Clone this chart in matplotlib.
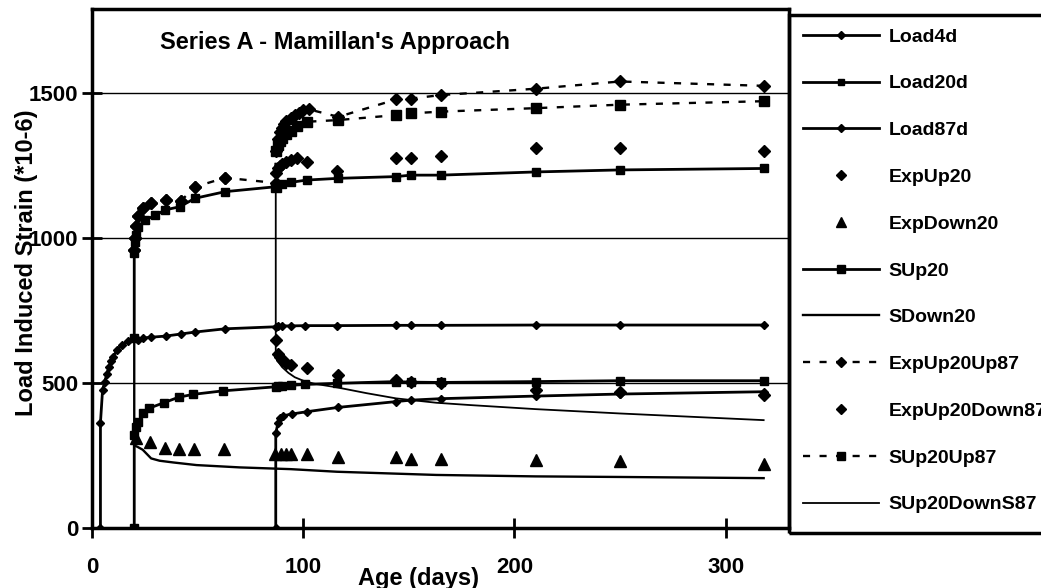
import matplotlib
matplotlib.use("Agg")
import matplotlib.pyplot as plt
from matplotlib.patches import Rectangle

plt.rcParams['font.family'] = ['Liberation Sans', 'DejaVu Sans']
plt.rcParams['font.weight'] = 'bold'

# ---------------- data ----------------
load4d_days = [4, 4, 5, 6, 7, 8, 9, 10, 12, 14, 17, 20, 22, 24, 28, 35, 42, 49, 63, 87,
               88, 90, 94, 101, 116, 144, 151, 165, 210, 250, 318]
load4d_vals = [0, 363, 476, 505, 530, 556, 575, 591, 615, 631, 645, 655, 650, 655, 658, 662,
               669, 676, 687, 694, 696, 697, 697, 698, 698, 699, 699, 699, 700, 700, 700]

load20d_days = [20, 20, 21, 22, 24, 27, 34, 41, 48, 62, 87, 88, 90, 94, 101, 116, 144, 151,
                165, 210, 250, 318]
load20d_vals = [0, 321, 350, 367, 395, 413, 432, 451, 461, 473, 487, 489, 491, 492, 495, 499,
                505, 503, 502, 505, 508, 508]

load87d_days = [87, 87, 88, 89, 90.5, 94.5, 101.6, 116.6, 144, 151, 165, 210, 250, 318]
load87d_vals = [0, 326, 361, 378, 387, 393, 401, 416, 436, 441, 446, 455, 462, 470]

expup20_days = [20, 20.5, 21, 22, 24, 28, 35, 42, 49, 63, 87, 88, 89, 90, 92, 94, 97, 102,
                116, 144, 151, 165, 210, 250, 318]
expup20_vals = [960, 1000, 1040, 1075, 1105, 1120, 1131, 1128, 1177, 1208, 1225, 1240, 1250,
                1255, 1262, 1268, 1275, 1263, 1230, 1275, 1275, 1284, 1310, 1310, 1300]

expdown20_days = [21, 27.4, 34.5, 41.3, 48.4, 62.6, 86.7, 89.6, 91.8, 94, 101.6, 116.6, 144,
                  151, 165, 210, 250, 318]
expdown20_vals = [310, 298, 275, 273, 271, 271, 255, 255, 255, 255, 255, 244, 244, 238, 238,
                  235, 232, 221]

sup20_days = [20, 20, 20.5, 21, 22, 25, 30, 34.5, 41.6, 48.7, 63, 87, 90, 94, 101.6, 116.6,
              144, 151, 165, 210, 250, 318]
sup20_vals = [655, 950, 985, 1010, 1039, 1062, 1078, 1097, 1108, 1137, 1160, 1177, 1185, 1192,
              1200, 1206, 1212, 1217, 1217, 1228, 1235, 1240]

sdown20_days = [20, 20, 21.5, 24, 26, 28, 32, 38.5, 49.5, 70, 94, 116, 163, 210, 250, 318]
sdown20_vals = [655, 285, 280, 270, 255, 240, 232, 226, 217, 209, 203, 194, 183, 178, 176, 172]

expup20up87_days = [20, 20.5, 21, 22, 24, 28, 35, 42, 49, 63, 87, 87, 88, 89, 90, 91, 92, 94,
                    96, 98, 100, 102.7, 116.6, 144, 151, 165, 210, 250, 318]
expup20up87_vals = [960, 1000, 1040, 1075, 1105, 1120, 1131, 1128, 1177, 1208, 1190, 1300,
                    1340, 1365, 1380, 1395, 1405, 1415, 1425, 1432, 1440, 1444, 1418, 1478,
                    1481, 1493, 1515, 1540, 1525]

expup20down87_days = [87, 88, 89, 90, 92, 94, 102, 116.6, 144, 151, 165, 210, 250, 318]
expup20down87_vals = [648, 600, 590, 580, 570, 562, 551, 528, 510, 505, 500, 475, 470, 460]

sup20up87_days = [87, 87, 88, 89, 90, 92, 94, 97, 101.6, 116.6, 144, 151, 165, 210, 250, 318]
sup20up87_vals = [1177, 1300, 1320, 1335, 1345, 1360, 1370, 1385, 1401, 1407, 1424, 1430,
                  1436, 1448, 1460, 1472]

sup20downs87_days = [87, 87, 88, 90, 93, 96, 100, 105, 116, 130, 144, 163, 179, 210, 250, 318]
sup20downs87_vals = [1177, 600, 575, 555, 535, 520, 508, 498, 485, 465, 447, 432, 424, 410,
                     395, 372]

x_ticks = [0, 100, 200, 300]
y_ticks = [0, 500, 1000, 1500]
title = "Series A - Mamillan's Approach"
x_label = "Age (days)"
y_label = "Load Induced Strain (*10-6)"

# ---------------- figure ----------------
W, H = 1041, 588
fig = plt.figure(figsize=(W / 100, H / 100), dpi=100)
fig.patch.set_facecolor('white')
ax = fig.add_axes([92 / W, (H - 528) / H, (789 - 92) / W, (528 - 9) / H])

k = 'black'
handles = []
handles += ax.plot(load4d_days, load4d_vals, linestyle='-', color=k, lw=2, marker='D', ms=4.5,
                   label='Load4d')
handles += ax.plot(load20d_days, load20d_vals, linestyle='-', color=k, lw=2, marker='s', ms=5.5,
                   label='Load20d')
handles += ax.plot(load87d_days, load87d_vals, linestyle='-', color=k, lw=2, marker='D', ms=4.5,
                   label='Load87d')
handles += ax.plot(expup20_days, expup20_vals, linestyle='none', color=k, marker='D', ms=6.5,
                   label='ExpUp20')
handles += ax.plot(expdown20_days, expdown20_vals, linestyle='none', color=k, marker='^', ms=8.5,
                   label='ExpDown20')
handles += ax.plot(sup20_days, sup20_vals, linestyle='-', color=k, lw=2, marker='s', ms=6,
                   label='SUp20')
handles += ax.plot(sdown20_days, sdown20_vals, linestyle='-', color=k, lw=1.7, label='SDown20')
l1, = ax.plot(expup20up87_days, expup20up87_vals, color=k, lw=1.7, marker='D', ms=6.5,
              label='ExpUp20Up87')
l1.set_dashes([3, 4])
handles.append(l1)
handles += ax.plot(expup20down87_days, expup20down87_vals, linestyle='none', color=k, marker='D',
                   ms=6.5, label='ExpUp20Down87')
l2, = ax.plot(sup20up87_days, sup20up87_vals, color=k, lw=1.7, marker='s', ms=6.5,
              label='SUp20Up87')
l2.set_dashes([3, 4])
handles.append(l2)
handles += ax.plot(sup20downs87_days, sup20downs87_vals, linestyle='-', color=k, lw=1.3,
                   label='SUp20DownS87')

ax.set_xlim(0, 330)
ax.set_ylim(0, 1790)
ax.set_xticks(x_ticks)
ax.set_yticks(y_ticks)
ax.yaxis.grid(True, color='black', lw=1.0)
ax.set_axisbelow(True)
for s in ax.spines.values():
    s.set_linewidth(2.5)
ax.tick_params(direction='inout', length=14, width=2, labelsize=16)
ax.tick_params(axis='x', pad=14)
ax.tick_params(axis='y', pad=3)
for lab in ax.get_xticklabels() + ax.get_yticklabels():
    lab.set_fontweight('bold')

ax.set_xlabel(x_label, fontsize=17, fontweight='bold')
ax.xaxis.set_label_coords((418 - 92) / 697, (528 - 578) / 519)
ax.xaxis.label.set_va('center')
ax.set_ylabel(y_label, fontsize=17, fontweight='bold')
ax.yaxis.set_label_coords((27 - 92) / 697, (528 - 263) / 519)
ax.yaxis.label.set_va('center')

ax.text((160 - 92) / 697, (528 - 43) / 519, title, transform=ax.transAxes,
        fontsize=17, fontweight='bold', ha='left', va='center')

# legend box
fig.add_artist(Rectangle((789 / W, (H - 533) / H), (1045 - 789) / W, (533 - 15) / H,
                         transform=fig.transFigure, fill=False, lw=2.5, ec='black'))
leg = fig.legend(handles=handles, loc='upper left',
                 bbox_to_anchor=(803 / W, (H - 28) / H), frameon=False,
                 prop={'size': 14, 'weight': 'bold'}, labelspacing=1.5,
                 handlelength=3.9, handletextpad=0.5, borderpad=0, borderaxespad=0,
                 markerscale=0.85)

fig.savefig('out.png', dpi=100)
